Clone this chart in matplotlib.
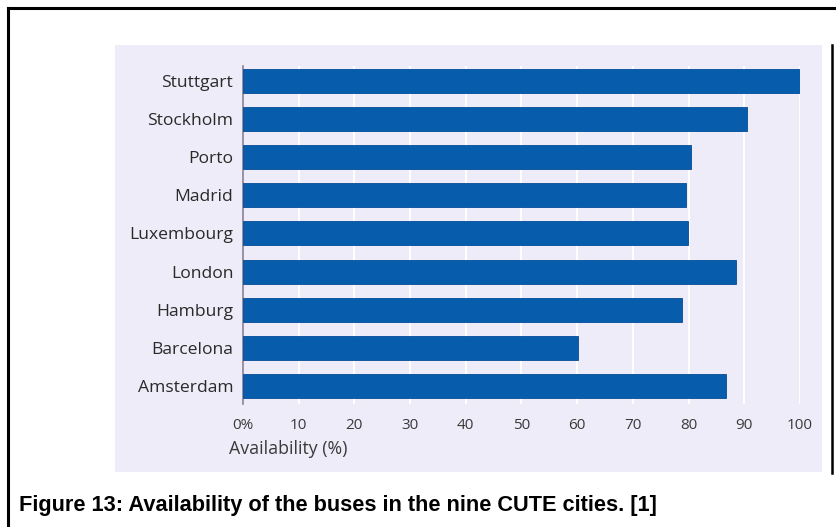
import matplotlib.pyplot as plt
from matplotlib.patches import Rectangle
from matplotlib.lines import Line2D

# data (bottom to top)
cities = ["Amsterdam", "Barcelona", "Hamburg", "London", "Luxembourg",
          "Madrid", "Porto", "Stockholm", "Stuttgart"]
availability = [86.7, 60.1, 78.9, 88.5, 79.9, 79.6, 80.4, 90.5, 100.0]
xticks = [0, 10, 20, 30, 40, 50, 60, 70, 80, 90, 100]
xticklabels = ["0%", "10", "20", "30", "40", "50", "60", "70", "80", "90", "100"]

W, H = 837, 527
fig = plt.figure(figsize=(W / 100, H / 100), dpi=100)
fig.patch.set_facecolor("white")

def fx(px):
    return px / W

def fy(py):
    return 1 - py / H

# light dotted background panel behind the chart
fig.patches.append(Rectangle((fx(115), fy(472)), fx(822) - fx(115), fy(45) - fy(472),
                             transform=fig.transFigure, facecolor="#EEECF8",
                             edgecolor="none", zorder=-5))

# page frame lines
fig.lines.append(Line2D([fx(8), fx(837)], [fy(8), fy(8)], transform=fig.transFigure,
                        color="black", lw=2.2))
fig.lines.append(Line2D([fx(8), fx(8)], [fy(8), fy(527)], transform=fig.transFigure,
                        color="black", lw=2.2))
fig.lines.append(Line2D([fx(832), fx(832)], [fy(45), fy(473)], transform=fig.transFigure,
                        color="black", lw=1.8))

ax = fig.add_axes([fx(243), fy(404), fx(800) - fx(243), fy(66) - fy(404)])
ax.set_zorder(2)
ax.set_facecolor("none")
ax.barh(range(len(cities)), availability, height=0.63, color="#075CAB",
        edgecolor="#064C96", lw=0.6, zorder=3)
ax.set_xlim(0, 100)
ax.set_ylim(-0.47, len(cities) - 1 + 0.39)
ax.set_xticks(xticks)
ax.set_xticklabels(xticklabels)
ax.set_yticks(range(len(cities)))
ax.set_yticklabels(cities)
ax.grid(axis="x", color="white", lw=1.4, zorder=1)
for s in ["top", "right", "bottom"]:
    ax.spines[s].set_visible(False)
ax.spines["left"].set_color("#8A7F98")
ax.spines["left"].set_linewidth(1.2)
ax.tick_params(axis="y", length=0, pad=7, labelsize=12.6, labelcolor="#2A2A2A")
ax.tick_params(axis="x", length=0, pad=10, labelsize=11, labelcolor="#3A3A3A")
for lab in ax.get_yticklabels() + ax.get_xticklabels():
    lab.set_fontfamily("Open Sans")

fig.text(fx(229), fy(449), "Availability (%)", ha="left", va="center",
         fontsize=12.8, color="#3A3A3A", family="Open Sans", zorder=3)

fig.text(fx(19), fy(506), "Figure 13: Availability of the buses in the nine CUTE cities. [1]",
         ha="left", va="center", fontsize=15.7, fontweight="bold",
         family="Liberation Sans", color="black")

fig.savefig("out.png", dpi=100)
